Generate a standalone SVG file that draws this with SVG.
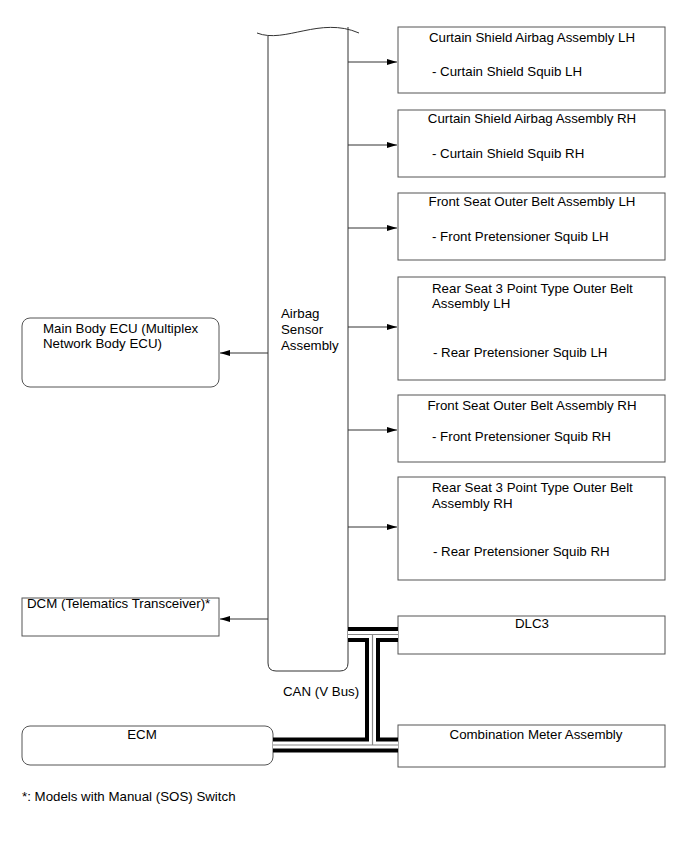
<svg xmlns="http://www.w3.org/2000/svg" width="690" height="853" viewBox="0 0 690 853">
<defs>
<marker id="ah" markerWidth="10" markerHeight="6" refX="10" refY="3" orient="auto" markerUnits="userSpaceOnUse">
<path d="M0,0 L10,3 L0,6 Z" fill="#000"/>
</marker>
<style>
text{font-family:"Liberation Sans",Arial,sans-serif;font-size:13.3px;fill:#000}
.box{fill:#fff;stroke:#555;stroke-width:1}
.ln{fill:none;stroke:#333;stroke-width:1}
.mid{text-anchor:middle}
.busk{fill:none;stroke:#000;stroke-width:15;stroke-linecap:butt}
.busw{fill:none;stroke:#fff;stroke-width:7;stroke-linecap:butt}
.busg{fill:none;stroke:#888;stroke-width:1.2;stroke-linecap:butt}
</style>
</defs>
<rect width="690" height="853" fill="#fff"/>

<g id="airbag-sensor">
<path class="ln" d="M268,36 L268,663 Q268,671 276,671 L340,671 Q348,671 348,663 L348,27"/>
<path class="ln" d="M257,33 C285,44 320,16 359,33"/>
<text x="281" y="318">Airbag</text>
<text x="281" y="334">Sensor</text>
<text x="281" y="350">Assembly</text>
</g>

<g id="curtain-lh">
<rect class="box" x="398" y="27" width="267" height="66"/>
<text class="mid" x="532" y="42">Curtain Shield Airbag Assembly LH</text>
<text x="432" y="76">- Curtain Shield Squib LH</text>
</g>
<g id="curtain-rh">
<rect class="box" x="398" y="110" width="267" height="67"/>
<text class="mid" x="532" y="123">Curtain Shield Airbag Assembly RH</text>
<text x="432" y="158">- Curtain Shield Squib RH</text>
</g>
<g id="front-belt-lh">
<rect class="box" x="398" y="193" width="267" height="67"/>
<text class="mid" x="532" y="206">Front Seat Outer Belt Assembly LH</text>
<text x="432" y="241">- Front Pretensioner Squib LH</text>
</g>
<g id="rear-belt-lh">
<rect class="box" x="398" y="277" width="267" height="103"/>
<text x="432" y="293">Rear Seat 3 Point Type Outer Belt</text>
<text x="432" y="308">Assembly LH</text>
<text x="433" y="357">- Rear Pretensioner Squib LH</text>
</g>
<g id="front-belt-rh">
<rect class="box" x="398" y="395" width="267" height="67"/>
<text class="mid" x="532" y="410">Front Seat Outer Belt Assembly RH</text>
<text x="432" y="441">- Front Pretensioner Squib RH</text>
</g>
<g id="rear-belt-rh">
<rect class="box" x="398" y="477" width="267" height="103"/>
<text x="432" y="492">Rear Seat 3 Point Type Outer Belt</text>
<text x="432" y="508">Assembly RH</text>
<text x="433" y="556">- Rear Pretensioner Squib RH</text>
</g>
<g id="dlc3">
<rect class="box" x="398" y="616" width="267" height="38"/>
<text class="mid" x="532" y="628">DLC3</text>
</g>
<g id="combination-meter">
<rect class="box" x="398" y="725" width="267" height="42"/>
<text class="mid" x="536" y="739">Combination Meter Assembly</text>
</g>

<g id="main-body-ecu">
<rect class="box" x="22" y="318" width="197" height="69" rx="8" ry="8"/>
<text x="43" y="333">Main Body ECU (Multiplex</text>
<text x="43" y="348">Network Body ECU)</text>
</g>
<g id="dcm">
<rect class="box" x="22" y="598" width="197" height="38"/>
<text x="27" y="608">DCM (Telematics Transceiver)*</text>
</g>
<g id="ecm">
<rect class="box" x="22" y="726" width="251" height="39" rx="8" ry="8"/>
<text class="mid" x="142" y="739">ECM</text>
</g>

<g id="connectors">
<line class="ln" x1="348" y1="62" x2="397" y2="62" marker-end="url(#ah)"/>
<line class="ln" x1="348" y1="145" x2="397" y2="145" marker-end="url(#ah)"/>
<line class="ln" x1="348" y1="228" x2="397" y2="228" marker-end="url(#ah)"/>
<line class="ln" x1="348" y1="327" x2="397" y2="327" marker-end="url(#ah)"/>
<line class="ln" x1="348" y1="430" x2="397" y2="430" marker-end="url(#ah)"/>
<line class="ln" x1="348" y1="527" x2="397" y2="527" marker-end="url(#ah)"/>
<line class="ln" x1="268" y1="353" x2="220" y2="353" marker-end="url(#ah)"/>
<line class="ln" x1="268" y1="619" x2="220" y2="619" marker-end="url(#ah)"/>
<g id="can-bus">
<path class="busk" d="M348,634.5 H398 M372.5,634.5 V745 M273,745 H398"/>
<path class="busw" d="M348,634.5 H398 M372.5,634.5 V745 M273,745 H398"/>
<path class="busg" d="M348,634.5 H398 M372.5,634.5 V745 M273,745 H398"/>
</g>
<text x="283" y="696">CAN (V Bus)</text>
</g>

<text x="22" y="801">*: Models with Manual (SOS) Switch</text>
</svg>
